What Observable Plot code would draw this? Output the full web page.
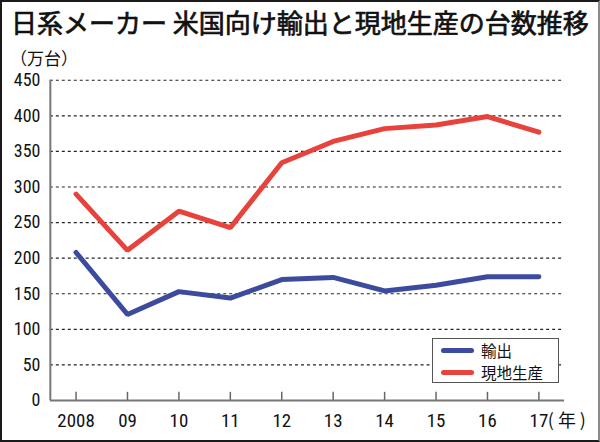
<!DOCTYPE html>
<html><head><meta charset="utf-8">
<script src="https://cdn.jsdelivr.net/npm/d3@7"></script>
<script src="https://cdn.jsdelivr.net/npm/@observablehq/plot@0.6"></script>
<style>
html,body{margin:0;padding:0;background:#fff;}
#wrap{position:relative;width:600px;height:442px;box-sizing:border-box;border:2px solid #1a1a1a;border-right-color:#8a8a8a;overflow:hidden;font-family:"Noto Sans CJK JP","Noto Sans",sans-serif;}
#title{position:absolute;left:9px;top:2px;font-size:26px;line-height:36px;color:#111;white-space:nowrap;font-weight:400;-webkit-text-stroke:0.7px #111;}
#unit{position:absolute;left:8px;top:45px;font-size:17px;line-height:22px;color:#111;}
#chart{position:absolute;left:-2px;top:-2px;}
#legend{position:absolute;left:430px;top:336px;width:125px;height:43px;border:1.5px solid #555;background:#fff;font-size:15.5px;color:#111;}
.row{position:absolute;left:8px;height:22px;line-height:22px;display:flex;align-items:center;}
.sw{display:inline-block;width:33px;height:5px;border-radius:3px;margin-right:7px;}
</style></head>
<body>
<div id="wrap">
<div id="chart"></div>
<div id="title">日系メーカー 米国向け輸出と現地生産の台数推移</div>
<div id="unit">（万台）</div>
<div id="legend"></div>
</div>
<script>
const years = [2008, 2009, 2010, 2011, 2012, 2013, 2014, 2015, 2016, 2017];
const yearLabels = ["2008","09","10","11","12","13","14","15","16","17"];
const exportsVals = [208, 121, 153, 144, 170, 173, 154, 162, 174, 174];
const localVals = [290, 211, 266, 243, 334, 364, 382, 387, 399, 377];
const seriesNames = ["輸出", "現地生産"];
const seriesColors = ["#3d4b9e", "#e8423c"];
const yTicks = [0, 50, 100, 150, 200, 250, 300, 350, 400, 450];

const data = [];
years.forEach((y, i) => {
  data.push({year: y, value: exportsVals[i], series: seriesNames[0]});
  data.push({year: y, value: localVals[i], series: seriesNames[1]});
});

const numFont = '"Liberation Sans Narrow","Arial Narrow","Roboto Condensed",sans-serif';

const chart = Plot.plot({
  width: 600,
  height: 442,
  marginLeft: 50,
  marginRight: 34,
  marginTop: 80,
  marginBottom: 40.6,
  style: {fontFamily: numFont, fontSize: "18px", color: "#111", background: "transparent"},
  x: {domain: [2007.5, 2017.5], label: null},
  y: {domain: [0, 450], ticks: yTicks, label: null},
  color: {domain: seriesNames, range: seriesColors},
  marks: [
    Plot.gridY(yTicks.filter(d => d > 0), {stroke: "#222", strokeOpacity: 1, strokeWidth: 1.2, strokeDasharray: "3,3"}),
    Plot.axisY({ticks: yTicks, tickSize: 0, tickPadding: 10, fontSize: 18, fontFamily: numFont, label: null}),
    Plot.axisX({ticks: years, tickFormat: (d) => yearLabels[years.indexOf(d)], tickSize: 0, tickPadding: 13, fontSize: 19, fontFamily: numFont, label: null}),
    Plot.ruleX(years, {x: d => d, y1: 0, y2: 11.5, stroke: "#666", strokeWidth: 1.5}),
    Plot.ruleY([0], {stroke: "#777", strokeWidth: 2}),
    Plot.ruleX([2007.5], {y1: 0, y2: 450, stroke: "#777", strokeWidth: 2}),
    Plot.text(["( 年 )"], {x: () => 2017, y: 0, dy: 21, dx: 9, textAnchor: "start", fontSize: 18, fontFamily: '"Noto Sans CJK JP",sans-serif', fill: "#111"}),
    Plot.line(data, {x: "year", y: "value", z: "series", stroke: "series", strokeWidth: 5, strokeLinejoin: "miter", strokeLinecap: "round"})
  ]
});
document.getElementById("chart").appendChild(chart);

const legend = document.getElementById("legend");
seriesNames.forEach((n, i) => {
  const row = document.createElement("div");
  row.className = "row";
  row.style.top = (0 + i * 22) + "px";
  const sw = document.createElement("span");
  sw.className = "sw";
  sw.style.background = seriesColors[i];
  const t = document.createElement("span");
  t.textContent = n;
  row.appendChild(sw); row.appendChild(t);
  legend.appendChild(row);
});
</script>
</body></html>
